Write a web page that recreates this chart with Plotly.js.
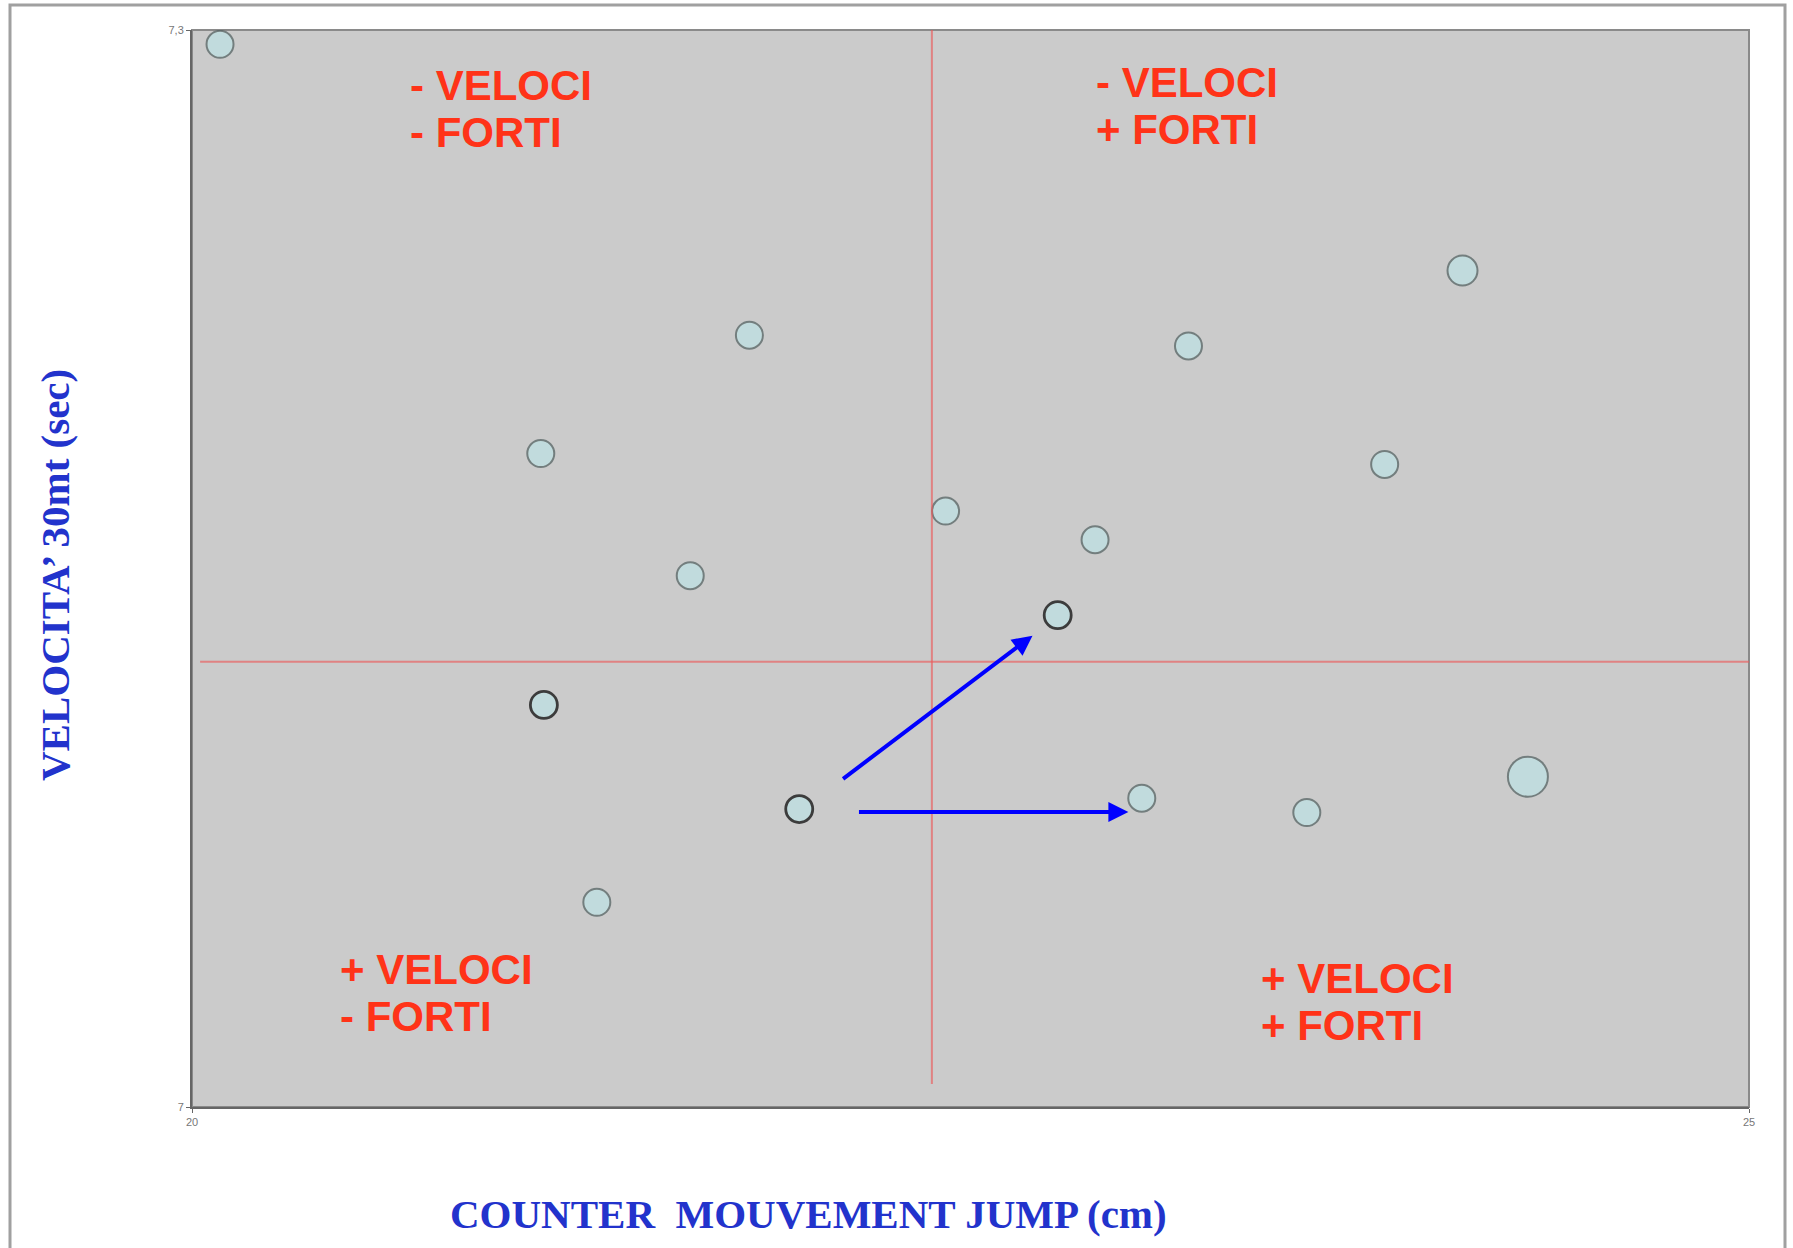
<!DOCTYPE html>
<html>
<head>
<meta charset="utf-8">
<script src="https://cdn.plot.ly/plotly-3.0.1.min.js"></script>
<style>html,body{margin:0;padding:0;background:#fff;}#chart{width:1793px;height:1248px;}</style>
</head>
<body>
<div id="chart"></div>
<script>
// Data
var jumpCm = [20.09, 21.79, 21.12, 21.60, 22.42, 22.90, 22.78, 23.20, 24.08, 23.83, 21.13, 21.95, 23.05, 23.58, 24.29, 21.30];
var sprintSec = [7.296, 7.215, 7.182, 7.148, 7.166, 7.158, 7.137, 7.212, 7.233, 7.179, 7.112, 7.083, 7.086, 7.082, 7.092, 7.057];
var highlighted = [false, false, false, false, false, false, true, false, false, false, true, true, false, false, false, false];
var bigPoint = [false, false, false, false, false, false, false, false, true, false, false, false, false, false, true, false];

var xTickVals = [20, 25];
var xTickText = ["20", "25"];
var yTickVals = [7, 7.3];
var yTickText = ["7", "7,3"];

var meanJump = 22.376;
var meanSprint = 7.124;

var quadrantLine1 = ["- VELOCI", "- VELOCI", "+ VELOCI", "+ VELOCI"];
var quadrantLine2 = ["- FORTI", "+ FORTI", "- FORTI", "+ FORTI"];
var quadrantX = [20.694, 22.897, 20.469, 23.426];
var quadrantY = [7.2780, 7.2790, 7.0319, 7.0294];

// arrows: start and end
var arrowFromX = [22.086, 22.137];
var arrowFromY = [7.0911, 7.0822];
var arrowToX = [22.699, 23.007];
var arrowToY = [7.1313, 7.0822];

var xTitle = "COUNTER&nbsp;&nbsp;MOUVEMENT JUMP (cm)";
var yTitle = "VELOCITA’ 30mt (sec)";

var sizes = bigPoint.map(function(b, i){ return i === 14 ? 40 : (b ? 30 : 27); });
var lineColors = highlighted.map(function(h){ return h ? '#000000' : '#4f5e5e'; });
var lineWidths = highlighted.map(function(h){ return h ? 2.8 : 2; });

var trace = {
  x: jumpCm, y: sprintSec, type: 'scatter', mode: 'markers',
  marker: {size: sizes, color: '#bde3e5', line: {color: lineColors, width: lineWidths}},
  hoverinfo: 'x+y', showlegend: false
};

var labelFont = {family: 'Liberation Sans, Arial, sans-serif', size: 42, color: '#ff3318', weight: 'bold'};
var annotations = [];
quadrantLine1.forEach(function(t, i){
  annotations.push({x: quadrantX[i], y: quadrantY[i], xref: 'x', yref: 'y', text: t, yshift: 23,
    showarrow: false, xanchor: 'left', yanchor: 'middle', align: 'left', font: labelFont});
  annotations.push({x: quadrantX[i], y: quadrantY[i], xref: 'x', yref: 'y', text: quadrantLine2[i], yshift: -24,
    showarrow: false, xanchor: 'left', yanchor: 'middle', align: 'left', font: labelFont});
});
for (var i = 0; i < arrowFromX.length; i++) {
  annotations.push({x: arrowToX[i], y: arrowToY[i], ax: arrowFromX[i], ay: arrowFromY[i],
    xref: 'x', yref: 'y', axref: 'x', ayref: 'y', text: '', showarrow: true,
    arrowhead: 2, arrowsize: 1, arrowwidth: 4, arrowcolor: '#0000ff', standoff: 0, startstandoff: 0});
}
annotations.push({x: (808-192)/1557, y: (1107-1214)/1077, xref: 'paper', yref: 'paper', text: xTitle,
  showarrow: false, xanchor: 'center', yanchor: 'middle',
  font: {family: 'Liberation Serif, Times New Roman, serif', size: 41, color: '#2233cc', weight: 'bold'}});
annotations.push({x: (55-192)/1557, y: (1107-575)/1077, xref: 'paper', yref: 'paper', text: yTitle,
  showarrow: false, xanchor: 'center', yanchor: 'middle', textangle: -90,
  font: {family: 'Liberation Serif, Times New Roman, serif', size: 41, color: '#2233cc', weight: 'bold'}});

var shapes = [
  {type: 'line', xref: 'x', yref: 'y', x0: meanJump, x1: meanJump, y0: 7.0064, y1: 7.3,
   line: {color: 'rgba(235,90,90,0.65)', width: 2}},
  {type: 'line', xref: 'x', yref: 'y', x0: 20.026, x1: 25, y0: meanSprint, y1: meanSprint,
   line: {color: 'rgba(235,90,90,0.65)', width: 2}},
  {type: 'rect', xref: 'paper', yref: 'paper', x0: 0, x1: 1, y0: 0, y1: 1,
   line: {color: '#8a8a8a', width: 2}, layer: 'below'},
  {type: 'rect', xref: 'paper', yref: 'paper', x0: (10-192)/1557, x1: (1785-192)/1557,
   y0: (1107-1300)/1077, y1: (1107-5)/1077, line: {color: '#a0a0a0', width: 3}}
];

var layout = {
  width: 1793, height: 1248,
  margin: {l: 192, r: 44, t: 30, b: 141},
  paper_bgcolor: '#ffffff', plot_bgcolor: '#cbcbcb',
  xaxis: {range: [20, 25], tickvals: xTickVals, ticktext: xTickText, showgrid: false, zeroline: false,
    showline: true, linecolor: '#666666', linewidth: 2, ticks: 'outside', ticklen: 4, tickcolor: '#666666',
    tickfont: {family: 'Liberation Sans, Arial, sans-serif', size: 11, color: '#777'}},
  yaxis: {range: [7, 7.3], tickvals: yTickVals, ticktext: yTickText, showgrid: false, zeroline: false,
    showline: true, linecolor: '#666666', linewidth: 2, ticks: 'outside', ticklen: 4, tickcolor: '#666666',
    tickfont: {family: 'Liberation Sans, Arial, sans-serif', size: 11, color: '#777'}},
  annotations: annotations,
  shapes: shapes,
  showlegend: false
};

Plotly.newPlot('chart', [trace], layout, {displayModeBar: false, staticPlot: true});
</script>
</body>
</html>
